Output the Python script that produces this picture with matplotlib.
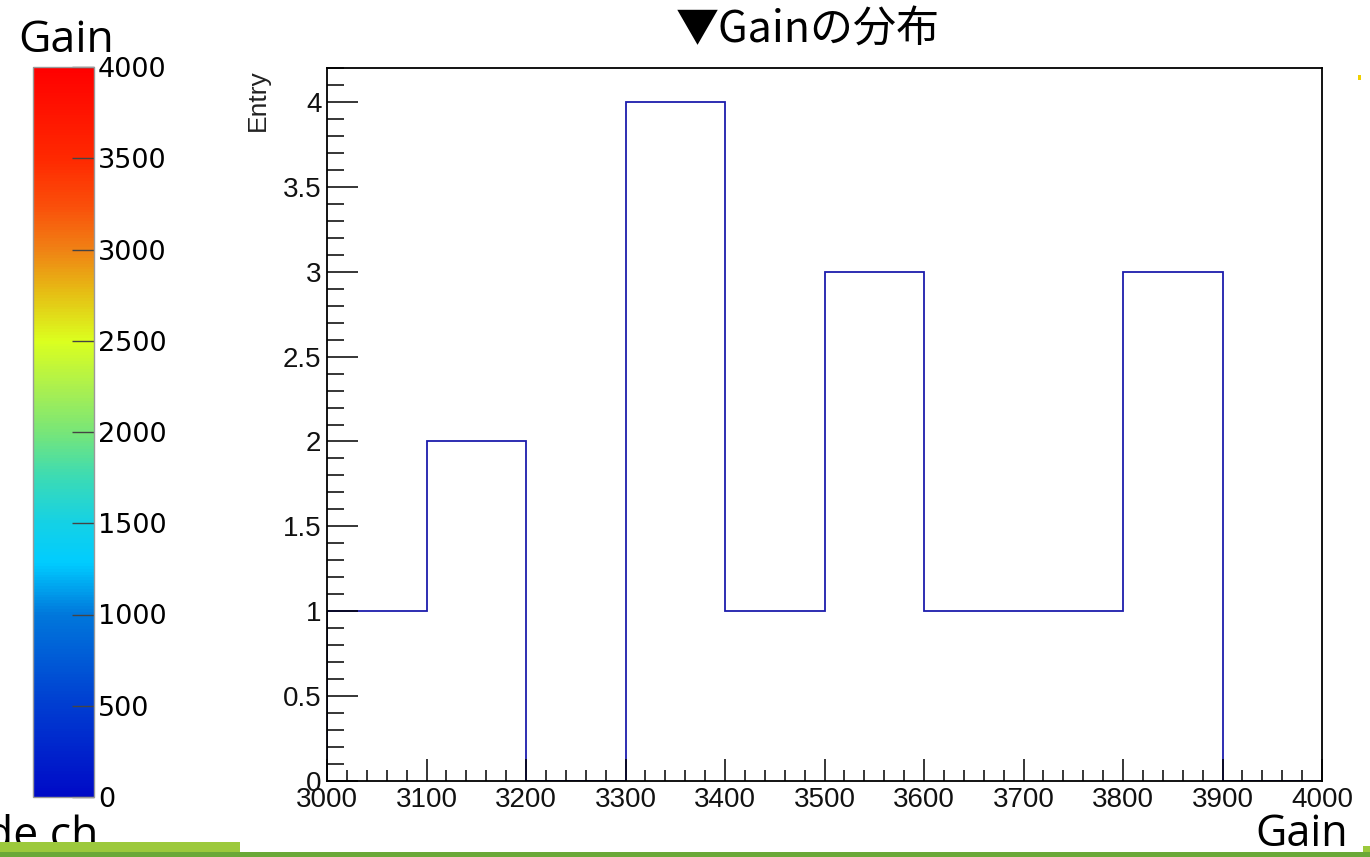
import numpy as np
import matplotlib
matplotlib.use("Agg")
import matplotlib.pyplot as plt
from matplotlib.colors import LinearSegmentedColormap, Normalize
from matplotlib.cm import ScalarMappable
from matplotlib.patches import Rectangle
from matplotlib.ticker import MultipleLocator, FormatStrFormatter

# ---- data ----
bin_edges = [3000, 3100, 3200, 3300, 3400, 3500, 3600, 3700, 3800, 3900, 4000]
entries = [1, 2, 0, 4, 1, 3, 1, 1, 3, 0]
cbar_ticks = [0, 500, 1000, 1500, 2000, 2500, 3000, 3500, 4000]
title_text = "▼Gainの分布"
ylabel_text = "Entry"

W, H = 1370, 857
fig = plt.figure(figsize=(W / 100, H / 100), dpi=100)
fig.patch.set_facecolor("white")

def fx(px):
    return px / W

def fy(py):
    return (H - py) / H

# ---- main histogram axes ----
L, R, T, B = 327, 1322, 68, 781
ax = fig.add_axes([fx(L), fy(B), fx(R - L), (B - T) / H])
ax.stairs(entries, bin_edges, color="#1c1cac", linewidth=1.3, baseline=0)
ax.set_xlim(3000, 4000)
ax.set_ylim(0, 4.2)
ax.xaxis.set_major_locator(MultipleLocator(100))
ax.xaxis.set_minor_locator(MultipleLocator(20))
ax.yaxis.set_major_locator(MultipleLocator(0.5))
ax.yaxis.set_minor_locator(MultipleLocator(0.1))
ax.yaxis.set_major_formatter(FormatStrFormatter("%g"))
ax.tick_params(axis="both", which="both", direction="in", top=False, right=False,
               width=1.1, color="black")
ax.tick_params(axis="x", which="major", length=16, pad=4)
ax.tick_params(axis="x", which="minor", length=8)
ax.tick_params(axis="y", which="major", length=22, pad=4)
ax.tick_params(axis="y", which="minor", length=12)
for lab in ax.get_xticklabels() + ax.get_yticklabels():
    lab.set_fontfamily("Liberation Sans")
    lab.set_fontsize(20)
    lab.set_color("#111111")
for s in ax.spines.values():
    s.set_linewidth(1.3)
    s.set_color("black")

fig.text(fx(258), fy(69), ylabel_text, rotation=90, ha="center", va="top",
         fontsize=19, family="Liberation Sans", color="#222222")

# ---- colour bar ----
cmap = LinearSegmentedColormap.from_list("rootrain", [
    (0.0, (0.00, 0.04, 0.78)),
    (0.125, (0.00, 0.24, 0.82)),
    (0.25, (0.00, 0.47, 0.86)),
    (0.32, (0.00, 0.80, 1.00)),
    (0.375, (0.08, 0.82, 0.90)),
    (0.44, (0.24, 0.86, 0.70)),
    (0.50, (0.47, 0.90, 0.47)),
    (0.56, (0.67, 0.94, 0.31)),
    (0.625, (0.86, 1.00, 0.12)),
    (0.69, (0.90, 0.75, 0.08)),
    (0.75, (0.94, 0.51, 0.08)),
    (0.81, (0.98, 0.31, 0.04)),
    (0.875, (1.00, 0.16, 0.00)),
    (1.0, (1.00, 0.00, 0.00)),
])
cax = fig.add_axes([fx(33), fy(797), fx(94 - 33), (797 - 67) / H])
sm = ScalarMappable(norm=Normalize(0, 4000), cmap=cmap)
cb = fig.colorbar(sm, cax=cax)
cb.set_ticks(cbar_ticks)
cb.ax.yaxis.set_major_formatter(FormatStrFormatter("%d"))
cb.ax.tick_params(direction="in", length=16, width=1.0, color="#444444",
                  labelsize=19.5, pad=3)
cb.ax.minorticks_off()
for lab in cb.ax.get_yticklabels():
    lab.set_fontfamily("DejaVu Sans")
cb.outline.set_linewidth(1.0)
cb.outline.set_edgecolor("#999999")

# ---- texts ----
fig.text(fx(18), fy(52), "Gain", ha="left", va="baseline", fontsize=32,
         family="Open Sans", color="black")
fig.text(fx(808), fy(43), title_text, ha="center", va="baseline", fontsize=31,
         family=["Noto Sans CJK JP", "DejaVu Sans"], color="black")
fig.text(fx(1255), fy(846), "Gain", ha="left", va="baseline", fontsize=31,
         family="Open Sans", color="black")
fig.text(fx(98), fy(848), "de ch", ha="right", va="baseline", fontsize=32,
         family="Open Sans", color="black")

# ---- decorative bottom bars ----
fig.add_artist(Rectangle((0, fy(852)), fx(240), (852 - 842) / H,
                         transform=fig.transFigure, facecolor="#9cc93c",
                         edgecolor="none", zorder=10))
fig.add_artist(Rectangle((0, 0), 1, (857 - 852) / H,
                         transform=fig.transFigure, facecolor="#6aa838",
                         edgecolor="none", zorder=10))
fig.add_artist(Rectangle((fx(1363), fy(852)), fx(7), (852 - 846) / H,
                         transform=fig.transFigure, facecolor="#9cc93c",
                         edgecolor="none", zorder=10))
fig.add_artist(Rectangle((fx(1358), fy(80)), fx(3), 5 / H,
                         transform=fig.transFigure, facecolor="#f0d000",
                         edgecolor="none", zorder=10))

fig.savefig("out.png", dpi=100)
